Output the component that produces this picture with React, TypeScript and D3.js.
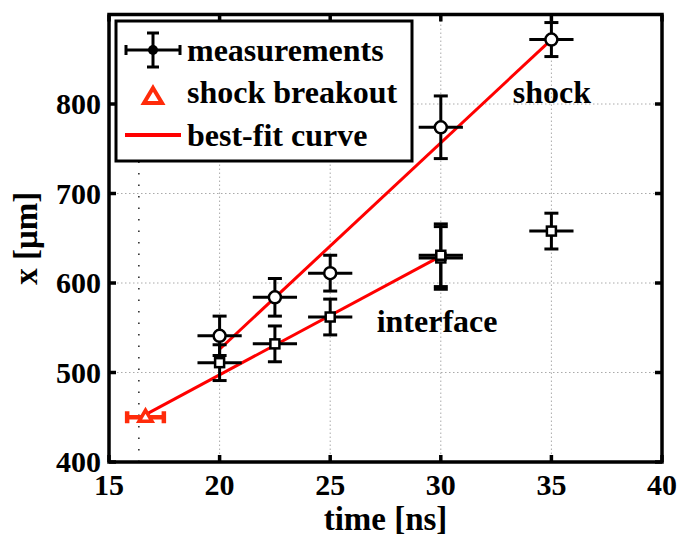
import React from "react";
import * as d3 from "d3";

// shock front positions (open circles)
const shockTime = [20, 22.5, 25, 30, 35];
const shockPos = [541, 584, 611, 774, 872];
const shockErr = [22, 21, 20, 35, 19];

// interface positions (open squares)
const ifaceTime = [20, 22.5, 25, 30, 30, 35];
const ifacePos = [511, 532, 562, 628, 631, 658];
const ifaceErr = [20, 20, 20, 35, 35, 20];

const timeErr = 1;

// shock breakout
const breakoutTime = 16.65;
const breakoutPos = 450;
const breakoutTimeErr = 0.83;

// best-fit lines
const shockFitTime = [20, 35];
const shockFitPos = [526, 872];
const ifaceFitTime = [16.65, 30];
const ifaceFitPos = [453, 630];

const breakoutMarkTime = 16.35;

const xTicks = [15, 20, 25, 30, 35, 40];
const yTicks = [400, 500, 600, 700, 800];

const W = 680;
const H = 538;
const margin = { left: 109, right: 18, top: 14.5, bottom: 76 };
const FONT = "'Liberation Serif', 'Times New Roman', serif";
const RED = "#ff0000";
const ORANGE = "#ff2b0a";

export default function App() {
  const x = d3
    .scaleLinear()
    .domain([15, 40])
    .range([margin.left, W - margin.right]);
  const y = d3
    .scaleLinear()
    .domain([400, 900])
    .range([H - margin.bottom, margin.top]);

  const [x0, x1] = x.range();
  const [y0, y1] = y.range();
  const line = d3.line<[number, number]>().x((d) => x(d[0])).y((d) => y(d[1]));

  const errBar = (t: number, v: number, e: number, key: string) => (
    <g key={key} stroke="#000" strokeWidth={3} fill="none">
      <line x1={x(t)} x2={x(t)} y1={y(v - e)} y2={y(v + e)} />
      <line x1={x(t) - 7} x2={x(t) + 7} y1={y(v + e)} y2={y(v + e)} />
      <line x1={x(t) - 7} x2={x(t) + 7} y1={y(v - e)} y2={y(v - e)} />
      <line x1={x(t - timeErr)} x2={x(t + timeErr)} y1={y(v)} y2={y(v)} />
    </g>
  );

  const bx = x(breakoutTime);
  const by = y(breakoutPos);

  return (
    <svg
      width={W}
      height={H}
      style={{ position: "absolute", left: 0, top: 0, background: "#fff" }}
      fontFamily={FONT}
      fontWeight="bold"
    >
      <rect width={W} height={H} fill="#fff" />

      {/* grid */}
      <g stroke="#aaa" strokeWidth={1} strokeDasharray="1.5 2.5">
        {xTicks.slice(1, -1).map((t) => (
          <line key={"gx" + t} x1={x(t)} x2={x(t)} y1={y0} y2={y1} />
        ))}
        {yTicks.slice(1).map((t) => (
          <line key={"gy" + t} x1={x0} x2={x1} y1={y(t)} y2={y(t)} />
        ))}
      </g>

      {/* breakout time marker */}
      <line
        x1={x(breakoutMarkTime)}
        x2={x(breakoutMarkTime)}
        y1={y0}
        y2={y1}
        stroke="#222"
        strokeWidth={1.5}
        strokeDasharray="1.5 10"
      />

      {/* fits */}
      <path
        d={line(shockFitTime.map((t, i) => [t, shockFitPos[i]]))!}
        stroke={RED}
        strokeWidth={3}
        fill="none"
      />
      <path
        d={line(ifaceFitTime.map((t, i) => [t, ifaceFitPos[i]]))!}
        stroke={RED}
        strokeWidth={3}
        fill="none"
      />

      {/* error bars */}
      {shockTime.map((t, i) => errBar(t, shockPos[i], shockErr[i], "se" + i))}
      {ifaceTime.map((t, i) => errBar(t, ifacePos[i], ifaceErr[i], "ie" + i))}

      {/* markers */}
      {shockTime.map((t, i) => (
        <circle
          key={"sc" + i}
          cx={x(t)}
          cy={y(shockPos[i])}
          r={6}
          fill="#fff"
          stroke="#000"
          strokeWidth={2.5}
        />
      ))}
      {ifaceTime.map((t, i) => (
        <rect
          key={"ir" + i}
          x={x(t) - 4.5}
          y={y(ifacePos[i]) - 4.5}
          width={9}
          height={9}
          fill="#fff"
          stroke="#000"
          strokeWidth={2.5}
        />
      ))}

      {/* shock breakout */}
      <g stroke={ORANGE} strokeWidth={4.5} fill="none">
        <line
          x1={x(breakoutTime - breakoutTimeErr)}
          x2={x(breakoutTime + breakoutTimeErr)}
          y1={by}
          y2={by}
        />
        <line
          x1={x(breakoutTime - breakoutTimeErr)}
          x2={x(breakoutTime - breakoutTimeErr)}
          y1={by - 6}
          y2={by + 6}
        />
        <line
          x1={x(breakoutTime + breakoutTimeErr)}
          x2={x(breakoutTime + breakoutTimeErr)}
          y1={by - 6}
          y2={by + 6}
        />
        <path
          d={`M${bx},${by - 7} l6.5,11 l-13,0 Z`}
          fill="#fff"
          strokeWidth={3.5}
        />
      </g>

      {/* annotations */}
      <text x={x(33.25)} y={y(801)} fontSize={32}>
        shock
      </text>
      <text x={x(27.1)} y={y(545)} fontSize={32}>
        interface
      </text>

      {/* frame and ticks */}
      <rect
        x={x0}
        y={y1}
        width={x1 - x0}
        height={y0 - y1}
        fill="none"
        stroke="#000"
        strokeWidth={3.5}
      />
      <g stroke="#000" strokeWidth={3.5}>
        {xTicks.map((t) => (
          <g key={"xt" + t}>
            <line x1={x(t)} x2={x(t)} y1={y0} y2={y0 - 7} />
            <line x1={x(t)} x2={x(t)} y1={y1} y2={y1 + 7} />
          </g>
        ))}
        {yTicks.map((t) => (
          <g key={"yt" + t}>
            <line x1={x0} x2={x0 + 7} y1={y(t)} y2={y(t)} />
            <line x1={x1} x2={x1 - 7} y1={y(t)} y2={y(t)} />
          </g>
        ))}
      </g>
      <g fontSize={30} fill="#000">
        {xTicks.map((t) => (
          <text key={"xl" + t} x={x(t)} y={y0 + 33} textAnchor="middle">
            {t}
          </text>
        ))}
        {yTicks.map((t) => (
          <text key={"yl" + t} x={x0 - 8} y={y(t) + 10} textAnchor="end">
            {t}
          </text>
        ))}
      </g>

      {/* axis titles */}
      <text x={(x0 + x1) / 2} y={530} fontSize={33} textAnchor="middle">
        time [ns]
      </text>
      <text
        transform={`translate(37,${(y0 + y1) / 2}) rotate(-90)`}
        fontSize={33}
        textAnchor="middle"
      >
        x [μm]
      </text>

      {/* legend */}
      <g>
        <rect
          x={116}
          y={21}
          width={296}
          height={140}
          fill="#fff"
          stroke="#000"
          strokeWidth={3}
        />
        <g stroke="#000" strokeWidth={3}>
          <line x1={126} x2={180} y1={50} y2={50} />
          <line x1={126} x2={126} y1={45} y2={55} />
          <line x1={180} x2={180} y1={45} y2={55} />
          <line x1={153} x2={153} y1={33} y2={67} />
          <line x1={147} x2={159} y1={33} y2={33} />
          <line x1={147} x2={159} y1={67} y2={67} />
        </g>
        <circle cx={153} cy={50} r={5} fill="#000" />
        <path
          d="M153,88 l9,15 l-18,0 Z"
          fill="#fff"
          stroke={ORANGE}
          strokeWidth={4}
        />
        <line x1={125} x2={181} y1={135} y2={135} stroke={RED} strokeWidth={4} />
        <g fontSize={32} fill="#000">
          <text x={187} y={61}>
            measurements
          </text>
          <text x={187} y={103}>
            shock breakout
          </text>
          <text x={187} y={146}>
            best-fit curve
          </text>
        </g>
      </g>
    </svg>
  );
}
